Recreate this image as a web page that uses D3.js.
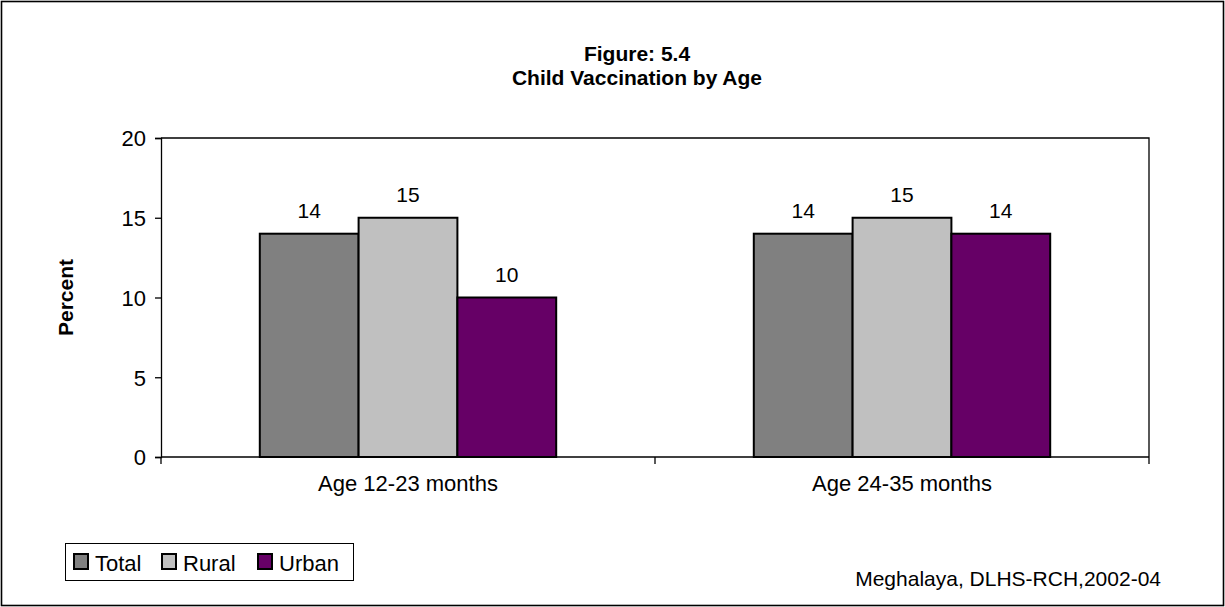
<!DOCTYPE html>
<html>
<head>
<meta charset="utf-8">
<script src="https://cdn.jsdelivr.net/npm/d3@7"></script>
<style>
  html, body { margin: 0; padding: 0; background: #fff; }
  svg { display: block; font-family: Arial, "Liberation Sans", sans-serif; }
</style>
</head>
<body>
<svg id="chart" width="1225" height="607"></svg>
<script>
// Child vaccination by age group, Meghalaya DLHS-RCH 2002-04
const categories = ["Age 12-23 months", "Age 24-35 months"];
const seriesNames = ["Total", "Rural", "Urban"];
const seriesColors = ["#808080", "#c0c0c0", "#660066"];
const totalValues = [14, 14];
const ruralValues = [15, 15];
const urbanValues = [10, 14];
const yTicks = [0, 5, 10, 15, 20];

const seriesValues = [totalValues, ruralValues, urbanValues];

const svg = d3.select("#chart");
const W = 1225, H = 607;
const FONT = "Arial, 'Liberation Sans', sans-serif";

// outer frame
svg.append("rect")
  .attr("x", 1.5).attr("y", 1.5)
  .attr("width", W - 3).attr("height", H - 3)
  .attr("fill", "#fff").attr("stroke", "#000").attr("stroke-width", 1.6);

const plot = { left: 161, top: 138, right: 1149, bottom: 457 };

const x0 = d3.scaleBand()
  .domain(categories)
  .range([plot.left, plot.right])
  .paddingInner(0).paddingOuter(0);

const x1 = d3.scaleBand()
  .domain(seriesNames)
  .range([0, x0.bandwidth()])
  .paddingOuter(1)   // gap equal to two bar widths, split on both sides
  .paddingInner(0);

const y = d3.scaleLinear().domain([0, 20]).range([plot.bottom, plot.top]);

// plot area border (top and right)
svg.append("path")
  .attr("d", `M${plot.left},${plot.top}H${plot.right}V${plot.bottom}`)
  .attr("fill", "none").attr("stroke", "#000").attr("stroke-width", 1.3);

// bars
const rows = (c, i) => seriesNames.map((s, k) => ({ s, k, v: seriesValues[k][i] }));
const groups = svg.append("g").selectAll("g")
  .data(categories)
  .join("g")
  .attr("transform", d => `translate(${x0(d)},0)`);

groups.selectAll("rect")
  .data(rows)
  .join("rect")
  .attr("x", d => x1(d.s))
  .attr("y", d => y(d.v))
  .attr("width", x1.bandwidth())
  .attr("height", d => y(0) - y(d.v))
  .attr("fill", d => seriesColors[d.k])
  .attr("stroke", "#000").attr("stroke-width", 2);

// value labels
groups.selectAll("text.val")
  .data(rows)
  .join("text")
  .attr("class", "val")
  .attr("x", d => x1(d.s) + x1.bandwidth() / 2)
  .attr("y", d => y(d.v) - 16)
  .attr("text-anchor", "middle")
  .attr("font-size", 21)
  .attr("fill", "#000")
  .text(d => d.v);

// y axis
const yAxis = svg.append("g")
  .attr("transform", `translate(${plot.left},0)`)
  .call(d3.axisLeft(y).tickValues(yTicks).tickSize(6).tickPadding(9).tickFormat(d3.format("d")));
yAxis.select(".domain").attr("stroke", "#000").attr("stroke-width", 1.3);
yAxis.selectAll(".tick line").attr("stroke", "#000").attr("stroke-width", 1.3);
yAxis.selectAll(".tick text")
  .attr("font-size", 22).attr("font-family", FONT)
  .attr("fill", "#000").attr("dy", "0.36em");

// x axis with boundary ticks between categories
const xAxisG = svg.append("g").attr("transform", `translate(0,${plot.bottom})`);
xAxisG.append("line")
  .attr("x1", plot.left).attr("x2", plot.right)
  .attr("stroke", "#000").attr("stroke-width", 1.3);
const boundaries = categories.map(c => x0(c)).concat([x0.range()[1]]);
xAxisG.selectAll("line.tk")
  .data(boundaries)
  .join("line")
  .attr("class", "tk")
  .attr("x1", d => d).attr("x2", d => d)
  .attr("y1", 0).attr("y2", 7)
  .attr("stroke", "#000").attr("stroke-width", 1.3);
xAxisG.selectAll("text")
  .data(categories)
  .join("text")
  .attr("x", d => x0(d) + x0.bandwidth() / 2)
  .attr("y", 34)
  .attr("text-anchor", "middle")
  .attr("font-size", 22)
  .attr("fill", "#000")
  .text(d => d);

// title
const title = svg.append("text")
  .attr("text-anchor", "middle")
  .attr("font-weight", "bold").attr("font-size", 21).attr("fill", "#000");
title.append("tspan").attr("x", 637).attr("y", 61).text("Figure: 5.4");
title.append("tspan").attr("x", 637).attr("y", 85).text("Child Vaccination by Age");

// y axis title
svg.append("text")
  .attr("transform", `translate(73,${(plot.top + plot.bottom) / 2}) rotate(-90)`)
  .attr("text-anchor", "middle")
  .attr("font-weight", "bold").attr("font-size", 21).attr("fill", "#000")
  .text("Percent");

// legend
const legend = svg.append("g");
legend.append("rect")
  .attr("x", 65.5).attr("y", 543.5).attr("width", 288).attr("height", 37)
  .attr("fill", "#fff").attr("stroke", "#000").attr("stroke-width", 1);
const legendX = [73, 161, 257];
const items = legend.selectAll("g.item")
  .data(seriesNames)
  .join("g")
  .attr("class", "item")
  .attr("transform", (d, i) => `translate(${legendX[i]},554)`);
items.append("rect")
  .attr("x", 1).attr("width", 14).attr("height", 15)
  .attr("fill", (d, i) => seriesColors[i])
  .attr("stroke", "#000").attr("stroke-width", 2);
items.append("text")
  .attr("x", 22).attr("y", 17)
  .attr("font-size", 22).attr("fill", "#000")
  .text(d => d);

// source note
svg.append("text")
  .attr("x", 1161).attr("y", 586)
  .attr("text-anchor", "end")
  .attr("font-size", 21).attr("fill", "#000")
  .text("Meghalaya, DLHS-RCH,2002-04");
</script>
</body>
</html>
